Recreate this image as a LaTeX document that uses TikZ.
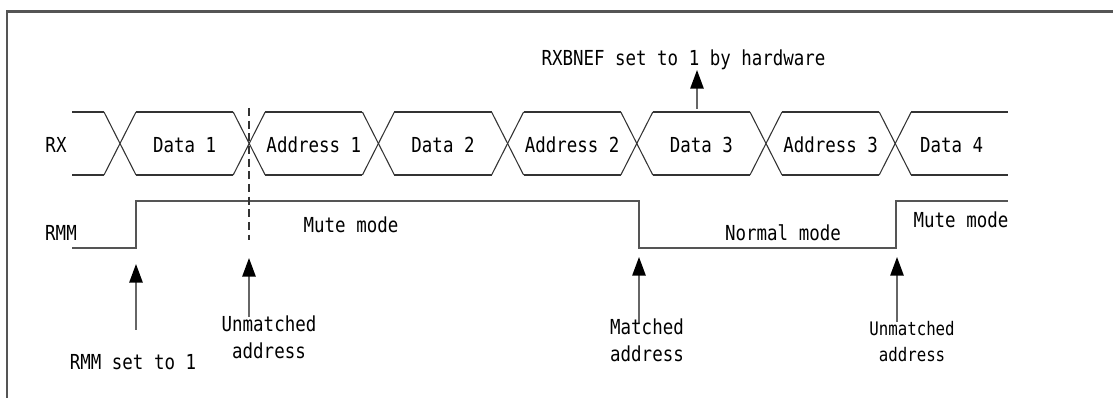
\documentclass[tikz,border=0pt]{standalone}
\usepackage{fontspec}
\usetikzlibrary{arrows.meta}
\newfontfamily\monof[FakeStretch=0.845]{DejaVu Sans Mono}
\definecolor{wave}{HTML}{333333}
\definecolor{sig}{HTML}{555555}
\definecolor{shaft}{HTML}{666666}
\tikzset{
  lbl/.style={font=\monof\fontsize{15.5pt}{20.5pt}\selectfont, inner sep=0pt, text=black},
  lblsmall/.style={font=\monof\fontsize{14pt}{19pt}\selectfont, inner sep=0pt, text=black},
  wavel/.style={draw=wave, line width=0.8pt},
  sigl/.style={draw=sig, line width=1.1pt},
  ptr/.style={draw=shaft, line width=1.3pt, -{Triangle[length=14pt,width=10pt,fill=black,color=black]}},
  framel/.style={draw=sig, line width=1.6pt},
}
\begin{document}
\begin{tikzpicture}[x=0.75pt,y=-0.75pt]
\useasboundingbox (0,0) rectangle (1113,398);
% frame
\draw[framel] (7,398) -- (7,11.5) -- (1113,11.5);
% RX waveform
\def\h{16}
\foreach \c in {120,249.2,378.4,507.6,636.8,766,895.2}{
  \draw[wavel] (\c-\h,112) -- (\c+\h,175);
  \draw[wavel] (\c-\h,175) -- (\c+\h,112);
}
\foreach \a/\b in {72/104, 136/233.2, 265.2/362.4, 394.4/491.6, 523.6/620.8, 652.8/750, 782/879.2, 911.2/1008}{
  \draw[wavel] (\a,112) -- (\b,112);
  \draw[wavel] (\a,175) -- (\b,175);
}
\node[lbl] (rx) at (56,145) {RX};
\node[lbl] (d1) at (184.6,145) {Data 1};
\node[lbl] (ad1) at (313.8,145) {Address 1};
\node[lbl] (d2) at (443,145) {Data 2};
\node[lbl] (ad2) at (572.2,145) {Address 2};
\node[lbl] (d3) at (701.4,145) {Data 3};
\node[lbl] (ad3) at (830.6,145) {Address 3};
\node[lbl] (d4) at (951.6,145) {Data 4};
% RMM waveform
\node[lbl] (rmm) at (61,233) {RMM};
\draw[sigl] (72,248) -- (136,248) -- (136,201) -- (639,201) -- (639,248) -- (896,248) -- (896,201) -- (1008,201);
\node[lbl] (mute1) at (351,225) {Mute mode};
\node[lbl] (normal) at (783,233) {Normal mode};
\node[lbl] (mute2) at (961,220) {Mute mode};
% dashed marker
\coordinate (dtop) at (249,108);
\coordinate (dbot) at (249,240);
\draw[draw=wave, line width=0.9pt, dash pattern=on 6pt off 3.5pt] (dtop) -- (dbot);
% top annotation
\node[lbl] (rxb) at (683.5,60) {RXBNEF set to 1 by hardware};
\coordinate (a5s) at (697,109);
\coordinate (a5t) at (697,70);
\draw[ptr] (a5s) -- (a5t);
% bottom annotations
\coordinate (a1s) at (136,330);
\coordinate (a1t) at (136,264);
\draw[ptr] (a1s) -- (a1t);
\node[lbl] (set1) at (133,362) {RMM set to 1};
\coordinate (a2s) at (249,317);
\coordinate (a2t) at (249,258);
\draw[ptr] (a2s) -- (a2t);
\node[lbl, align=center] (un1) at (269,337) {Unmatched\\address};
\coordinate (a3s) at (639,323);
\coordinate (a3t) at (639,257);
\draw[ptr] (a3s) -- (a3t);
\node[lbl, align=left] (mat) at (647,340.5) {Matched\\address};
\coordinate (a4s) at (897,322);
\coordinate (a4t) at (897,257);
\draw[ptr] (a4s) -- (a4t);
\node[lblsmall, align=center] (un2) at (912,341.5) {Unmatched\\address};
\end{tikzpicture}
\end{document}
